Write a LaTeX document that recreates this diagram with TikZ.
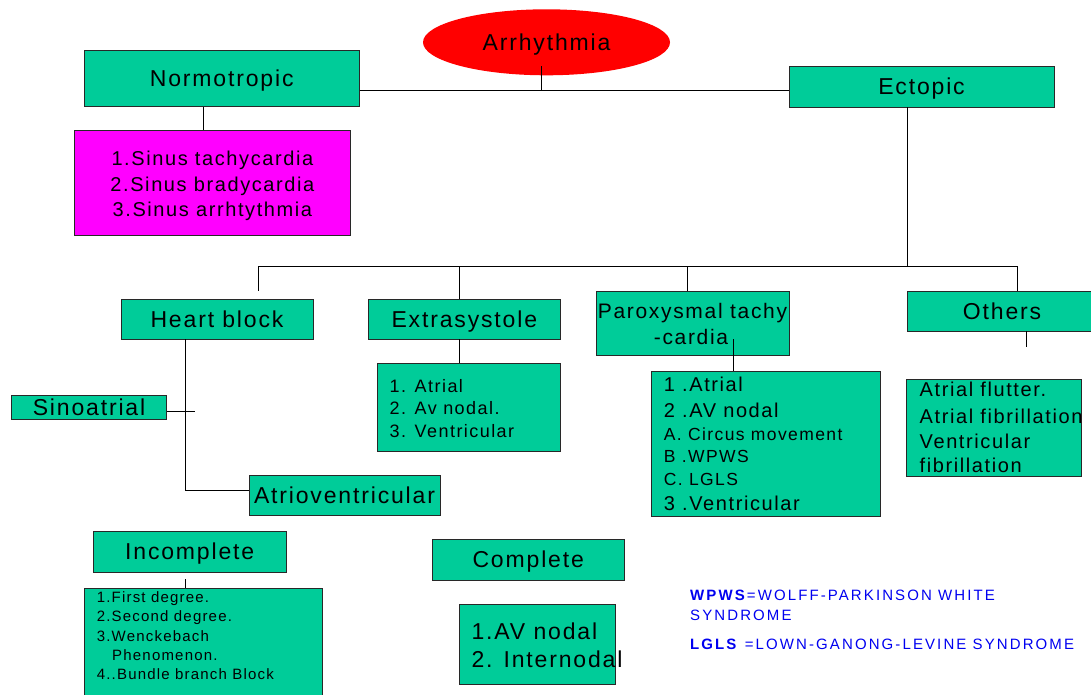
\documentclass[tikz,border=0pt]{standalone}
\usepackage{fontspec}
\setmainfont{Liberation Sans}[LetterSpace=8]
\newfontfamily\legfont{Liberation Sans}[LetterSpace=14]
\usetikzlibrary{shapes.geometric}
\definecolor{tealbox}{RGB}{0,204,153}
\definecolor{magbox}{RGB}{255,0,255}
\definecolor{redell}{RGB}{255,0,0}
\definecolor{legblue}{RGB}{0,0,240}
\definecolor{edgecol}{RGB}{40,40,40}
\newcommand\fsz[1]{\fontsize{#1}{#1}\selectfont}
\begin{document}
\begin{tikzpicture}[x=1pt,y=-1pt,
  box/.style={rectangle, draw=edgecol, line width=0.9pt, fill=tealbox, inner sep=0pt,
              text height=16pt, text depth=0pt, font=\fsz{23}},
  wire/.style={draw=black, line width=0.9pt},
  lline/.style={anchor=base west, inner sep=0pt},
  cline/.style={anchor=base, inner sep=0pt}]
\useasboundingbox (0,0) rectangle (1091,695);
\clip (0,0) rectangle (1091,695);

% top level
\node[ellipse, fill=redell, minimum width=247pt, minimum height=66pt, inner sep=0pt,
      text height=16pt, text depth=0pt, font=\fsz{23}] (arr) at (546.5,42.3) {Arrhythmia};
\node[box, minimum width=275pt, minimum height=56pt] (normo) at (221.7,78.4) {Normotropic};
\node[box, minimum width=265pt, minimum height=41pt] (ecto) at (921.5,86.5) {Ectopic};

\coordinate (j0) at (541,90);
\coordinate (j0t) at (541,66);
\draw[wire] (j0t) -- (j0);
\draw[wire] (normo.east |- j0) -- (ecto.west |- j0);

% normotropic list
\node[box, fill=magbox, minimum width=275.3pt, minimum height=105.3pt] (sinus) at (212.4,182.7) {};
\node[cline, font=\fsz{20}] (s1) at (212.4,165.7) {1.Sinus tachycardia};
\node[cline, font=\fsz{20}] (s2) at (212.4,191.2) {2.Sinus bradycardia};
\node[cline, font=\fsz{20}] (s3) at (212.4,216.7) {3.Sinus arrhtythmia};
\coordinate (nw) at (203.4,0);
\draw[wire] (nw |- normo.south) -- (nw |- sinus.north);

% ectopic branches
\coordinate (ej) at (907,266.5);
\coordinate (hL) at (258,266.5);
\coordinate (hR) at (1017.5,266.5);
\draw[wire] (ej |- ecto.south) -- (ej);
\draw[wire] (hL) -- (hR);
\coordinate (hLd) at (258,291);
\draw[wire] (hL) -- (hLd);

\node[box, minimum width=192pt, minimum height=40pt] (hblock) at (217,319) {Heart block};
\node[box, minimum width=192.2pt, minimum height=40pt] (extra) at (464.3,319) {Extrasystole};
\node[box, minimum width=193pt, minimum height=64.7pt] (parox) at (692.5,323.3) {};
\node[cline, font=\fsz{21}] (p1) at (692.5,318) {Paroxysmal tachy};
\node[cline, font=\fsz{21}] (p2) at (691,344) {-cardia};
\node[box, minimum width=190pt, minimum height=40pt] (others) at (1002,311) {Others};

\coordinate (xw) at (459.3,0);
\draw[wire] (xw |- hL) -- (xw |- extra.north);
\coordinate (pd) at (687.6,0);
\draw[wire] (pd |- hL) -- (pd |- parox.north);
\draw[wire] (hR) -- (hR |- others.north);

% extrasystole list
\node[box, minimum width=183.4pt, minimum height=88.4pt] (xsub) at (468.7,407.5) {};
\draw[wire] (xw |- extra.south) -- (xw |- xsub.north);
\node[lline, font=\fsz{18}] (x1) at (389.5,392) {1. Atrial};
\node[lline, font=\fsz{18}] (x2) at (389.5,414.5) {2. Av nodal.};
\node[lline, font=\fsz{18}] (x3) at (389.5,437) {3. Ventricular};

% paroxysmal list
\node[box, minimum width=228.7pt, minimum height=144.3pt] (psub) at (765.7,443.8) {};
\coordinate (pw) at (733.6,339);
\draw[wire] (pw) -- (pw |- psub.north);
\node[lline, font=\fsz{20}] (q1) at (663.7,391.7) {1 .Atrial};
\node[lline, font=\fsz{20}] (q2) at (663.7,417.7) {2 .AV nodal};
\node[lline, font=\fsz{17.5}] (q3) at (663.7,440.7) {A. Circus movement};
\node[lline, font=\fsz{17.5}] (q4) at (663.7,462.3) {B .WPWS};
\node[lline, font=\fsz{17.5}] (q5) at (663.7,485.7) {C. LGLS};
\node[lline, font=\fsz{20}] (q6) at (663.7,510) {3 .Ventricular};

% others list
\node[box, minimum width=174.2pt, minimum height=96.7pt] (osub) at (993.9,427.7) {};
\coordinate (ow) at (1026,347.3);
\draw[wire] (ow |- others.south) -- (ow);
\node[lline, font=\fsz{20}] (o1) at (919.5,396.7) {Atrial flutter.};
\node[lline, font=\fsz{20}] (o2) at (919.5,423) {Atrial fibrillation};
\node[lline, font=\fsz{20}] (o3) at (919.5,448.3) {Ventricular};
\node[lline, font=\fsz{20}] (o4) at (919.5,472.7) {fibrillation};

% heart block children
\node[box, minimum width=155.5pt, minimum height=24.4pt] (sa) at (89,407.5) {Sinoatrial};
\node[box, minimum width=191pt, minimum height=40pt] (av) at (344.5,495) {Atrioventricular};
\coordinate (avj) at (185,490.7);
\draw[wire] (avj |- hblock.south) -- (avj) -- (av.west |- avj);
\coordinate (saj) at (194.7,411);
\draw[wire] (sa.east |- saj) -- (saj);

% incomplete / complete
\node[box, minimum width=192.7pt, minimum height=40.3pt] (inc) at (189.7,551.8) {Incomplete};
\node[box, minimum width=238.3pt, minimum height=117pt] (isub) at (203.3,646.5) {};
\coordinate (it) at (185,579);
\draw[wire] (it) -- (it |- isub.north);
\node[lline, font=\fsz{15}] (i1) at (96.6,602) {1.First degree.};
\node[lline, font=\fsz{15}] (i2) at (96.6,621.5) {2.Second degree.};
\node[lline, font=\fsz{15}] (i3) at (96.6,641) {3.Wenckebach};
\node[lline, font=\fsz{15}] (i4) at (112,660) {Phenomenon.};
\node[lline, font=\fsz{15}] (i5) at (96.6,679.3) {4..Bundle branch Block};

\node[box, minimum width=192.4pt, minimum height=41pt] (comp) at (528.2,559.8) {Complete};
\node[box, minimum width=156.3pt, minimum height=80.3pt] (csub) at (537.2,644.2) {};
\node[lline, font=\fsz{23}] (c1) at (471.4,639.3) {1.AV nodal};
\node[lline, font=\fsz{23}] (c2) at (471.4,667.7) {2. Internodal};

% legend
\node[lline, font=\legfont\fsz{15}, text=legblue] (lg1) at (690,600) {\textbf{WPWS}=WOLFF-PARKINSON WHITE};
\node[lline, font=\legfont\fsz{15}, text=legblue] (lg2) at (690,620) {SYNDROME};
\node[lline, font=\legfont\fsz{15}, text=legblue] (lg3) at (690,649) {\textbf{LGLS} =LOWN-GANONG-LEVINE SYNDROME};
\end{tikzpicture}
\end{document}
